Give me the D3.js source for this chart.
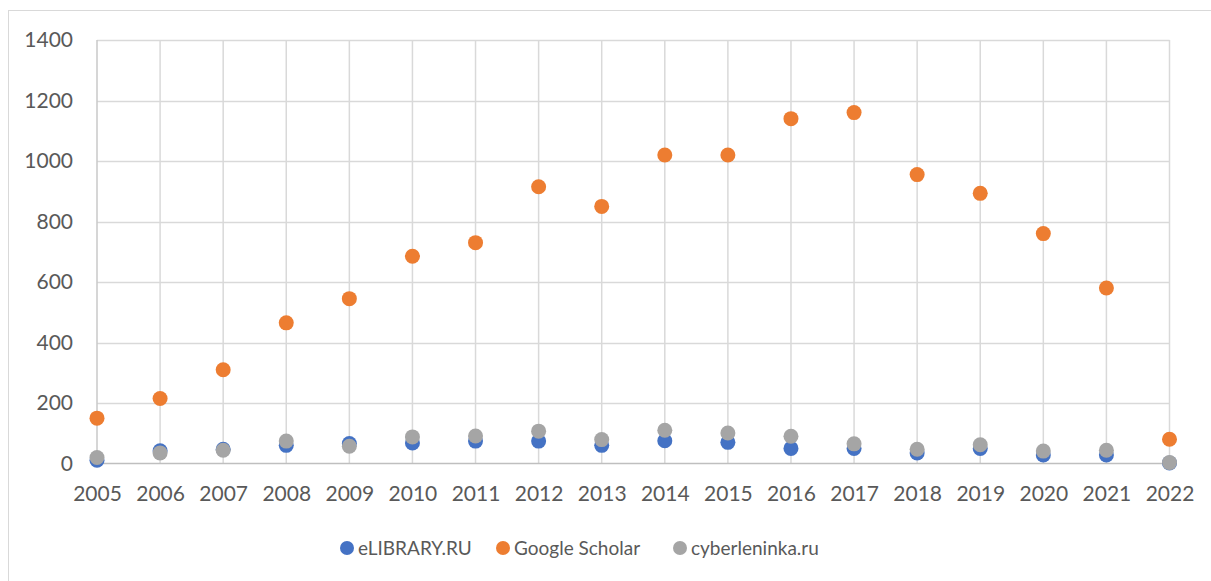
<!DOCTYPE html>
<html>
<head>
<meta charset="utf-8">
<script src="https://cdn.jsdelivr.net/npm/d3@7"></script>
<style>
  body { margin: 0; background: #fff; }
  svg text { font-family: Lato, "Open Sans", sans-serif; fill: #595959; }
</style>
</head>
<body>
<div id="chart"></div>
<script>
var years = ['2005', '2006', '2007', '2008', '2009', '2010', '2011', '2012', '2013',
    '2014', '2015', '2016', '2017', '2018', '2019', '2020', '2021', '2022'];
var elibrary = [11, 42, 47, 60, 66, 68, 74, 74, 60, 75, 70, 50, 50, 35, 50, 28, 28, 2];
var scholar = [150, 215, 310, 465, 545, 685, 730, 915, 850, 1020, 1020, 1140, 1160, 955, 893, 760, 580, 80];
var cyber = [20, 35, 44, 74, 57, 88, 91, 107, 79, 110, 101, 90, 65, 47, 62, 41, 44, 3];
var yTicks = [0, 200, 400, 600, 800, 1000, 1200, 1400];

var seriesList = [
    { name: 'eLIBRARY.RU', values: elibrary, color: '#4472C4' },
    { name: 'Google Scholar', values: scholar, color: '#ED7D31' },
    { name: 'cyberleninka.ru', values: cyber, color: '#A5A5A5' }
];

var W = 1211, H = 581;
var margin = { left: 97, right: W - 1169.5, top: 40, bottom: H - 463.5 };
var width = W - margin.left - margin.right,
    height = H - margin.top - margin.bottom;

var svg = d3.select('#chart').append('svg')
    .attr('width', W).attr('height', H);

// outer chart border
svg.append('rect')
    .attr('x', 8.5).attr('y', 10.5)
    .attr('width', W).attr('height', H)
    .attr('fill', 'none').attr('stroke', '#d9d9d9');

var main = svg.append('g')
    .attr('transform', 'translate(' + margin.left + ',' + margin.top + ')');

var x = d3.scalePoint().domain(years).range([0, width]);
var y = d3.scaleLinear().domain([0, 1400]).range([height, 0]);

// grid
main.append('g').selectAll('line.ygrid')
    .data(yTicks.slice(1))
    .enter().append('line')
    .attr('x1', 0).attr('x2', width)
    .attr('y1', function (d) { return Math.round(y(d)) + 0.5; })
    .attr('y2', function (d) { return Math.round(y(d)) + 0.5; })
    .attr('stroke', '#d9d9d9').attr('stroke-width', 1.5);
main.append('g').selectAll('line.xgrid')
    .data(years)
    .enter().append('line')
    .attr('x1', function (d) { return x(d); })
    .attr('x2', function (d) { return x(d); })
    .attr('y1', 0).attr('y2', height)
    .attr('stroke', function (d, i) { return i === 0 ? '#c8c8c8' : '#d9d9d9'; })
    .attr('stroke-width', 1.5);

// x axis line
main.append('line')
    .attr('x1', 0).attr('x2', width)
    .attr('y1', height).attr('y2', height)
    .attr('stroke', '#bfbfbf').attr('stroke-width', 1.5);

// axis labels
var yAxis = d3.axisLeft(y).tickValues(yTicks).tickFormat(d3.format('d'))
    .tickSize(0).tickPadding(24);
main.append('g').call(yAxis)
    .call(function (g) { g.select('.domain').remove(); })
    .selectAll('text')
    .style('font-size', '21px').attr('fill', '#595959')
    .attr('font-family', 'Lato, "Open Sans", sans-serif');

var xAxis = d3.axisBottom(x).tickSize(0).tickPadding(23);
main.append('g').attr('transform', 'translate(0,' + height + ')').call(xAxis)
    .call(function (g) { g.select('.domain').remove(); })
    .selectAll('text')
    .style('font-size', '21px').attr('fill', '#595959')
    .attr('font-family', 'Lato, "Open Sans", sans-serif');

// points
seriesList.forEach(function (s) {
    main.append('g').selectAll('circle')
        .data(s.values)
        .enter().append('circle')
        .attr('cx', function (d, i) { return x(years[i]); })
        .attr('cy', function (d) { return y(d); })
        .attr('r', 7.5)
        .attr('fill', s.color);
});

// legend
var legendX = [347, 503, 680];
var legend = svg.append('g').attr('transform', 'translate(0,548)');
seriesList.forEach(function (s, i) {
    var item = legend.append('g').attr('transform', 'translate(' + legendX[i] + ',0)');
    item.append('circle').attr('r', 7).attr('fill', s.color);
    item.append('text')
        .attr('x', 11).attr('dy', '0.35em')
        .style('font-size', '19px')
        .text(s.name);
});
</script>
</body>
</html>
